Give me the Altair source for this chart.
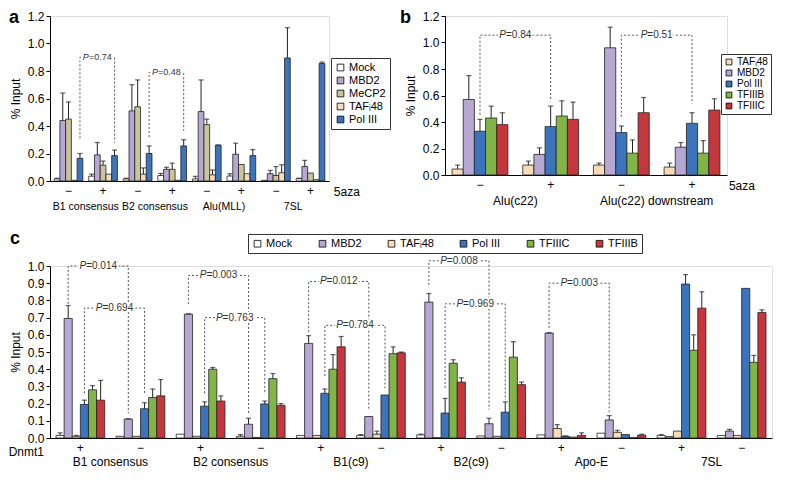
import altair as alt
import pandas as pd

MINUS = "\u2212"
TAF = "TAF" + "\u1d62" + "48"

# ---------------- Panel a ----------------
a_groups = ["B1 consensus", "B2 consensus", "Alu(MLL)", "7SL"]
a_signs = [MINUS, "+"]
a_series = ["Mock", "MBD2", "MeCP2", TAF, "Pol III"]
a_colors = ["#ffffff", "#b6a7d3", "#c9c49a", "#f8dcb8", "#3b74bd"]
a_mock = [0.015, 0.035, 0.015, 0.04, 0.015, 0.036, 0.005, 0.017]
a_mock_err = [0.02, 0.05, 0.02, 0.055, 0.034, 0.053, 0.005, 0.02]
a_mbd2 = [0.44, 0.19, 0.51, 0.085, 0.505, 0.195, 0.053, 0.105]
a_mbd2_err = [0.64, 0.28, 0.70, 0.10, 0.735, 0.275, 0.077, 0.15]
a_mecp2 = [0.45, 0.115, 0.54, 0.085, 0.41, 0.12, 0.04, 0.058]
a_mecp2_err = [0.575, 0.145, 0.735, 0.13, 0.45, 0.12, 0.105, 0.058]
a_taf = [0.005, 0.05, 0.05, 0.005, 0.045, 0.053, 0.06, 0.01]
a_taf_err = [0.005, 0.05, 0.095, 0.005, 0.08, 0.053, 0.118, 0.01]
a_pol3 = [0.165, 0.185, 0.20, 0.255, 0.26, 0.185, 0.895, 0.855]
a_pol3_err = [0.20, 0.225, 0.255, 0.30, 0.262, 0.228, 1.115, 0.865]
a_brackets = [  # (left key, right key, series, left low, top, right low, label)
    ("B1 consensus|" + MINUS, "B1 consensus|+", "Pol III", 0.31, 0.90, 0.28, "=0.74"),
    ("B2 consensus|" + MINUS, "B2 consensus|+", "Pol III", 0.32, 0.79, 0.365, "=0.48"),
]

# ---------------- Panel b ----------------
b_groups = ["Alu(c22)", "Alu(c22) downstream"]
b_signs = [MINUS, "+"]
b_series = [TAF, "MBD2", "Pol III", "TFIIIB", "TFIIIC"]
b_colors = ["#f8dcb8", "#b6a7d3", "#3b74bd", "#82b548", "#c5373d"]
b_taf = [0.045, 0.075, 0.075, 0.06]
b_taf_err = [0.075, 0.105, 0.09, 0.09]
b_mbd2 = [0.57, 0.155, 0.96, 0.21]
b_mbd2_err = [0.75, 0.205, 1.115, 0.245]
b_pol3 = [0.33, 0.365, 0.32, 0.39]
b_pol3_err = [0.42, 0.52, 0.37, 0.47]
b_tf3b = [0.43, 0.445, 0.165, 0.165]
b_tf3b_err = [0.52, 0.56, 0.265, 0.26]
b_tf3c = [0.38, 0.42, 0.47, 0.49]
b_tf3c_err = [0.47, 0.55, 0.585, 0.575]
b_brackets = [
    ("Alu(c22)|" + MINUS, "Alu(c22)|+", "Pol III", 0.455, 1.055, 0.555, "=0.84"),
    ("Alu(c22) downstream|" + MINUS, "Alu(c22) downstream|+", "Pol III", 0.44, 1.055, 0.54, "=0.51"),
]

# ---------------- Panel c ----------------
c_groups = ["B1 consensus", "B2 consensus", "B1(c9)", "B2(c9)", "Apo-E", "7SL"]
c_signs = ["+", MINUS]
c_series = ["Mock", "MBD2", TAF, "Pol III", "TFIIIC", "TFIIIB"]
c_colors = ["#ffffff", "#b6a7d3", "#f8dcb8", "#3b74bd", "#82b548", "#c5373d"]
c_mock = [0.015, 0.01, 0.022, 0.01, 0.015, 0.015, 0.018, 0.012, 0.018, 0.028, 0.015, 0.015]
c_mock_err = [0.03, 0.01, 0.022, 0.02, 0.015, 0.02, 0.022, 0.012, 0.018, 0.028, 0.02, 0.015]
c_mbd2 = [0.695, 0.11, 0.72, 0.08, 0.55, 0.125, 0.79, 0.083, 0.61, 0.105, 0.008, 0.04]
c_mbd2_err = [0.77, 0.112, 0.722, 0.115, 0.595, 0.125, 0.84, 0.115, 0.612, 0.13, 0.008, 0.05]
c_taf = [0.01, 0.01, 0.01, 0.003, 0.015, 0.022, 0.002, 0.01, 0.055, 0.033, 0.04, 0.015]
c_taf_err = [0.015, 0.01, 0.01, 0.003, 0.015, 0.04, 0.002, 0.01, 0.078, 0.045, 0.04, 0.015]
c_pol3 = [0.195, 0.17, 0.185, 0.198, 0.26, 0.25, 0.145, 0.15, 0.01, 0.02, 0.895, 0.87]
c_pol3_err = [0.22, 0.205, 0.21, 0.215, 0.285, 0.25, 0.23, 0.21, 0.012, 0.02, 0.95, 0.87]
c_tf3c = [0.28, 0.235, 0.40, 0.345, 0.40, 0.49, 0.435, 0.47, 0.005, 0.002, 0.51, 0.44]
c_tf3c_err = [0.305, 0.285, 0.41, 0.375, 0.485, 0.53, 0.455, 0.56, 0.005, 0.002, 0.60, 0.48]
c_tf3b = [0.22, 0.245, 0.215, 0.19, 0.53, 0.495, 0.325, 0.31, 0.015, 0.017, 0.755, 0.73]
c_tf3b_err = [0.335, 0.34, 0.245, 0.20, 0.59, 0.50, 0.35, 0.325, 0.03, 0.022, 0.85, 0.745]
c_brackets = [
    ("B1 consensus|+", "B1 consensus|" + MINUS, "MBD2", 0.78, 1.0, 0.145, "=0.014"),
    ("B1 consensus|+", "B1 consensus|" + MINUS, "Pol III", 0.26, 0.755, 0.26, "=0.694"),
    ("B2 consensus|+", "B2 consensus|" + MINUS, "MBD2", 0.78, 0.945, 0.135, "=0.003"),
    ("B2 consensus|+", "B2 consensus|" + MINUS, "Pol III", 0.26, 0.70, 0.255, "=0.763"),
    ("B1(c9)|+", "B1(c9)|" + MINUS, "MBD2", 0.615, 0.91, 0.16, "=0.012"),
    ("B1(c9)|+", "B1(c9)|" + MINUS, "Pol III", 0.36, 0.655, 0.29, "=0.784"),
    ("B2(c9)|+", "B2(c9)|" + MINUS, "MBD2", 0.89, 1.03, 0.165, "=0.008"),
    ("B2(c9)|+", "B2(c9)|" + MINUS, "Pol III", 0.29, 0.78, 0.22, "=0.969"),
    ("Apo-E|+", "Apo-E|" + MINUS, "MBD2", 0.64, 0.90, 0.145, "=0.003"),
]

FONT = "Liberation Sans"
INK = "#222222"


def text_w(s, f):
    w = {"=": 0.584, ".": 0.278}
    return sum(w.get(ch, 0.556) for ch in s) * f


def panel(letter, letter_pos, groups, signs, series, colors, vals, errs, brackets, ymax, yticks,
          width, height, pi, po, legend, sign_title, pfont, gfont=12, goff=26):
    keys = [f"{g}|{s}" for g in groups for s in signs]
    rows = []
    for s, v, e in zip(series, vals, errs):
        for k, vv, ee in zip(keys, v, e):
            rows.append(dict(key=k, series=s, value=vv, err=ee))
    df = pd.DataFrame(rows)
    df_err = df[df["err"] > df["value"] + 0.0005]
    step = width / (len(keys) - pi + 2 * po)

    xscale = alt.Scale(domain=keys, paddingInner=pi, paddingOuter=po)
    oscale = alt.Scale(domain=series, paddingInner=0, paddingOuter=0)
    xaxis = alt.Axis(labelExpr="split(datum.value, '|')[1]", labelAngle=0, ticks=False,
                     domainColor="black", labelFontSize=12, labelPadding=4,
                     labelColor="black", labelFont=FONT)
    yscale = alt.Scale(domain=[0, ymax], nice=False, zero=True)
    yaxis = alt.Axis(values=yticks, format=".1f", grid=False, domainColor="black",
                     tickColor="black", tickSize=4, labelFontSize=12, labelColor="black",
                     labelOverlap=False, labelFlush=False,
                     titleFontSize=12, titleFontWeight="normal", titleColor="black",
                     titlePadding=5, labelFont=FONT, titleFont=FONT)

    def X():
        return alt.X("key:N", scale=xscale, axis=xaxis, title=None)

    def Y(field):
        return alt.Y(field, scale=yscale, axis=yaxis, title="% Input")

    XO = alt.XOffset("series:N", scale=oscale)

    bars = alt.Chart(df).mark_bar(stroke=INK, strokeWidth=0.8).encode(
        x=X(), xOffset=XO, y=Y("value:Q"),
        color=alt.Color("series:N", scale=alt.Scale(domain=series, range=colors), legend=legend),
    )
    stems = alt.Chart(df_err).mark_rule(color=INK, strokeWidth=1).encode(
        x=X(), xOffset=XO, y=Y("value:Q"), y2="err:Q")
    caps = alt.Chart(df_err).mark_tick(color=INK, thickness=1.2, size=5).encode(
        x=X(), xOffset=XO, y=Y("err:Q"))

    brows, trows = [], []
    for i, (k1, k2, s, lo1, top, lo2, lab) in enumerate(brackets):
        brows += [dict(bid=i, key=k1, series=s, y=lo1, o=0), dict(bid=i, key=k1, series=s, y=top, o=1),
                  dict(bid=i, key=k2, series=s, y=top, o=2), dict(bid=i, key=k2, series=s, y=lo2, o=3)]
        trows.append(dict(key=k1, series=s, y=top, lab=lab))
    bdf = pd.DataFrame(brows)
    tdf = pd.DataFrame(trows)
    blines = alt.Chart(bdf).mark_line(strokeDash=[2, 2], color="#555555", strokeWidth=1).encode(
        x=X(), xOffset=XO, y=Y("y:Q"), detail="bid:N", order="o:Q")

    W = 0.667 * pfont + text_w(tdf["lab"].iloc[0], pfont)
    dxp = step / 2 - W / 2
    dxr = dxp + 0.667 * pfont
    layers = [bars, stems, caps, blines]
    for stroke in (True, False):
        extra = dict(stroke="white", strokeWidth=4) if stroke else {}
        col = "white" if stroke else "#333333"
        layers.append(alt.Chart(tdf).mark_text(text="P", fontStyle="italic", align="left", baseline="middle",
                                               dx=dxp, fontSize=pfont, font=FONT, color=col, **extra).encode(
            x=X(), xOffset=XO, y=Y("y:Q")))
        layers.append(alt.Chart(tdf).mark_text(align="left", baseline="middle", dx=dxr, fontSize=pfont,
                                               font=FONT, color=col, **extra).encode(
            text="lab:N", x=X(), xOffset=XO, y=Y("y:Q")))

    gdf = pd.DataFrame({"key": [f"{g}|{signs[0]}" for g in groups], "name": groups})
    glabels = alt.Chart(gdf).mark_text(fontSize=gfont, font=FONT, color="black", baseline="middle",
                                       dx=step * pi / 2).encode(
        x=alt.X("key:N", scale=xscale, axis=xaxis, title=None, bandPosition=1),
        y=alt.value(height + goff), text="name:N")
    layers.append(glabels)

    sdf = pd.DataFrame({"key": [keys[-1]], "t": [sign_title[0]]})
    if sign_title[1] == "right":
        st = alt.Chart(sdf).mark_text(fontSize=12, font=FONT, color="black", align="left", baseline="middle",
                                      dx=9).encode(
            x=alt.X("key:N", scale=xscale, axis=xaxis, title=None, bandPosition=1),
            y=alt.value(height + 11), text="t:N")
    else:
        st = alt.Chart(sdf).mark_text(fontSize=12, font=FONT, color="black", align="right",
                                      baseline="middle").encode(x=alt.value(-6), y=alt.value(height + 14),
                                                                text="t:N")
    layers.append(st)

    ldf = pd.DataFrame({"t": [letter]})
    lt = alt.Chart(ldf).mark_text(fontSize=18, fontWeight="bold", font=FONT, color="black", align="left",
                                  baseline="top").encode(
        x=alt.value(letter_pos[0]), y=alt.value(letter_pos[1]), text="t:N")
    layers.append(lt)

    return alt.layer(*layers).properties(width=width, height=height)


def leg(x, y, direction="vertical", columns=1, colpad=10, fs=11, ss=45, pad=4):
    return alt.Legend(orient="none", legendX=x, legendY=y, title=None, symbolType="square",
                      symbolStrokeColor="black", symbolStrokeWidth=0.8, symbolSize=ss,
                      labelFontSize=fs, labelFont=FONT, labelColor="black", strokeColor="#333333",
                      fillColor="white", padding=pad, rowPadding=1, direction=direction,
                      columns=columns, columnPadding=colpad, labelOffset=3)


pa = panel("a", (-41, -7), a_groups, a_signs, a_series, a_colors,
           [a_mock, a_mbd2, a_mecp2, a_taf, a_pol3],
           [a_mock_err, a_mbd2_err, a_mecp2_err, a_taf_err, a_pol3_err],
           a_brackets, 1.2, [0, 0.2, 0.4, 0.6, 0.8, 1.0, 1.2], 279, 165, 0.17, 0.12,
           leg(281, 42), ("5aza", "right"), 9, gfont=10.5)

pb = panel("b", (-45, -7), b_groups, b_signs, b_series, b_colors,
           [b_taf, b_mbd2, b_pol3, b_tf3b, b_tf3c],
           [b_taf_err, b_mbd2_err, b_pol3_err, b_tf3b_err, b_tf3c_err],
           b_brackets, 1.2, [0, 0.2, 0.4, 0.6, 0.8, 1.0, 1.2], 282, 159, 0.21, 0.1,
           leg(276, 38, fs=10, ss=34, pad=3), ("5aza", "right"), 10)

pc = panel("c", (-40, -36), c_groups, c_signs, c_series, c_colors,
           [c_mock, c_mbd2, c_taf, c_pol3, c_tf3c, c_tf3b],
           [c_mock_err, c_mbd2_err, c_taf_err, c_pol3_err, c_tf3c_err, c_tf3b_err],
           c_brackets, 1.0, [round(i * 0.1, 1) for i in range(11)], 722, 172, 0.19, 0.1,
           leg(198, -32, "horizontal", 6, 24), ("Dnmt1", "left"), 10, goff=24)

top = alt.hconcat(pa, pb, spacing=8).resolve_scale(color="independent", xOffset="independent")
chart = alt.vconcat(top, pc, spacing=16).resolve_scale(
    color="independent", xOffset="independent"
).configure_view(stroke=None).configure(font=FONT, padding=0)

chart.save("out.html", embed_options={"renderer": "svg", "actions": False})
